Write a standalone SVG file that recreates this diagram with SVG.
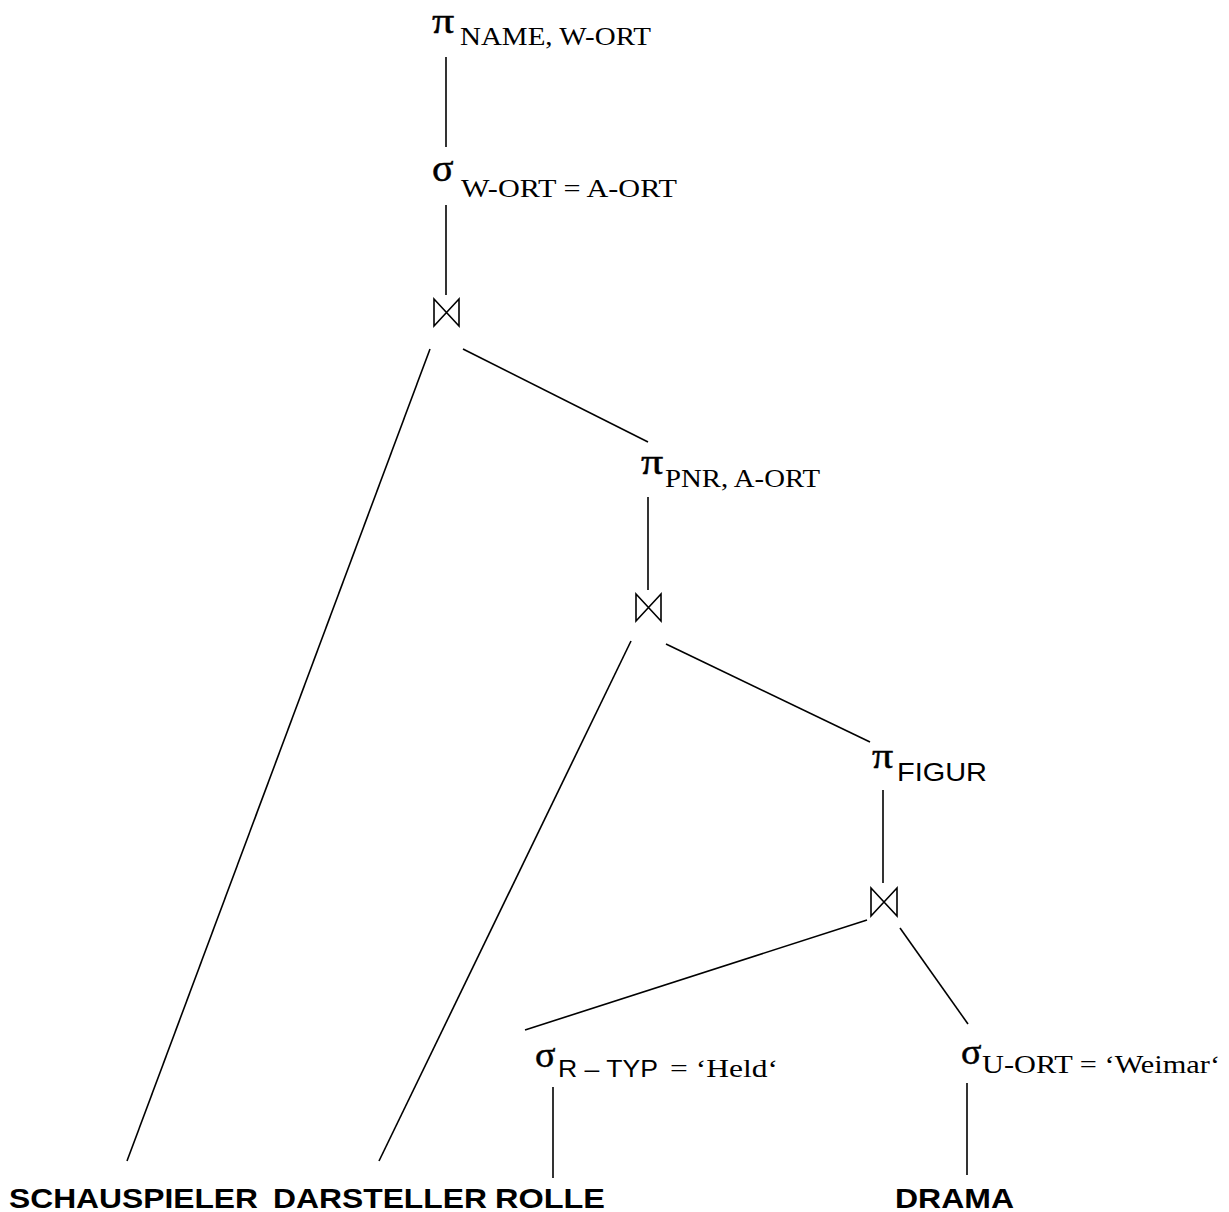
<svg xmlns="http://www.w3.org/2000/svg" width="1229" height="1212" viewBox="0 0 1229 1212">
<style>
.g{font-family:"Liberation Serif","Times New Roman",serif;font-size:40px;fill:#000;stroke:#000;stroke-width:0.5}
.s{font-family:"Liberation Serif","Times New Roman",serif;font-size:26px;fill:#000}
.a{font-family:"Liberation Sans",Arial,sans-serif;font-size:25px;fill:#000}
.b{font-family:"Liberation Sans",Arial,sans-serif;font-size:28px;font-weight:bold;fill:#000}
.c line,.j path{stroke:#000;stroke-width:1.6;fill:none}
</style>
<rect width="1229" height="1212" fill="#fff"/>
<g id="proj1"><text transform="translate(432,33) scale(1.1,0.9)" class="g">π</text><text x="460" y="45" class="s" textLength="191" lengthAdjust="spacingAndGlyphs">NAME, W-ORT</text></g>
<g id="sel1"><text transform="translate(432,181) scale(1.0,0.95)" class="g">σ</text><text x="461" y="197" class="s" textLength="216" lengthAdjust="spacingAndGlyphs">W-ORT = A-ORT</text></g>
<g id="join1" class="j"><path d="M434,299 V326 L459,299 V326 Z"/></g>
<g id="proj2"><text transform="translate(641,474) scale(1.1,0.9)" class="g">π</text><text x="665" y="487" class="s" textLength="155" lengthAdjust="spacingAndGlyphs">PNR, A-ORT</text></g>
<g id="join2" class="j"><path d="M636,594 V621 L661,594 V621 Z"/></g>
<g id="proj3"><text transform="translate(872,768) scale(1.05,0.9)" class="g">π</text><text x="897" y="781" class="a" textLength="90" lengthAdjust="spacingAndGlyphs">FIGUR</text></g>
<g id="join3" class="j"><path d="M871,888 V916 L897,888 V916 Z"/></g>
<g id="sel2"><text transform="translate(535,1067) scale(0.95,0.9)" class="g">σ</text><text x="558" y="1077" class="a" textLength="100" lengthAdjust="spacingAndGlyphs" style="font-size:23px">R – TYP</text><text x="670" y="1077" class="s" textLength="108" lengthAdjust="spacingAndGlyphs">= ‘Held‘</text></g>
<g id="sel3"><text transform="translate(961,1064) scale(0.95,0.9)" class="g">σ</text><text x="982" y="1073" class="s" textLength="238" lengthAdjust="spacingAndGlyphs">U-ORT = ‘Weimar‘</text></g>
<g id="schauspieler"><text x="9" y="1208" class="b" textLength="249" lengthAdjust="spacingAndGlyphs">SCHAUSPIELER</text></g>
<g id="darsteller"><text x="273" y="1208" class="b" textLength="214" lengthAdjust="spacingAndGlyphs">DARSTELLER</text></g>
<g id="rolle"><text x="495" y="1208" class="b" textLength="110" lengthAdjust="spacingAndGlyphs">ROLLE</text></g>
<g id="drama"><text x="895" y="1208" class="b" textLength="119" lengthAdjust="spacingAndGlyphs">DRAMA</text></g>
<g id="connectors" class="c">
<line x1="446" y1="57" x2="446" y2="147"/>
<line x1="446" y1="205" x2="446" y2="295"/>
<line x1="430" y1="349" x2="127" y2="1161"/>
<line x1="463" y1="349" x2="648" y2="442"/>
<line x1="648" y1="497" x2="648" y2="590"/>
<line x1="631" y1="641" x2="379" y2="1161"/>
<line x1="666" y1="644" x2="870" y2="742"/>
<line x1="883" y1="790" x2="883" y2="883"/>
<line x1="867" y1="920" x2="525" y2="1030"/>
<line x1="900" y1="928" x2="968" y2="1024"/>
<line x1="553" y1="1087" x2="553" y2="1178"/>
<line x1="967" y1="1083" x2="967" y2="1175"/>
</g>
</svg>
